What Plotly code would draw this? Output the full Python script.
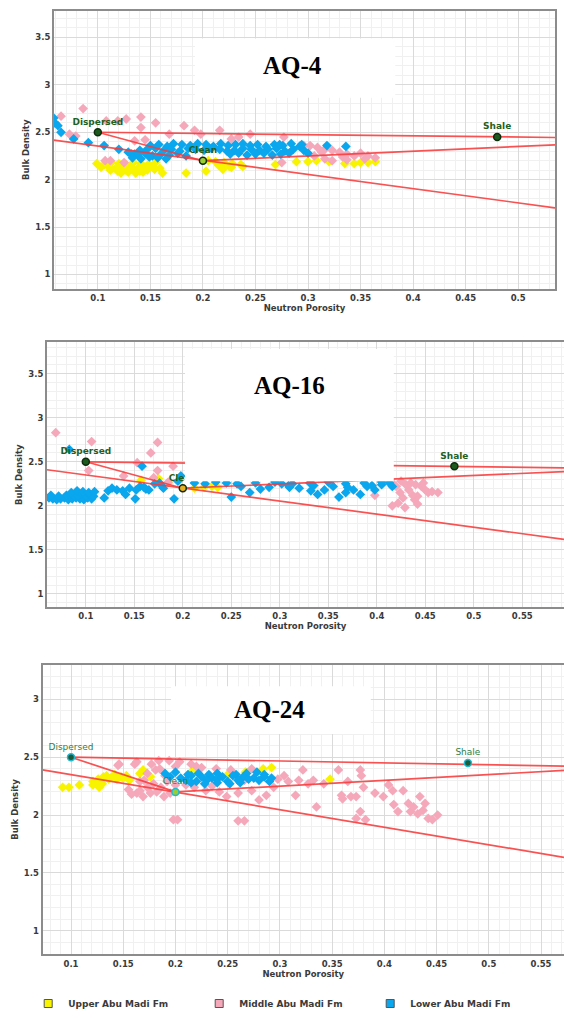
import plotly.graph_objects as go

# ---------------- data ----------------
# End members (neutron porosity, bulk density)
ENDMEMBER_NAMES = ["Dispersed", "Clean", "Shale"]
ENDMEMBER_X = [0.10, 0.20, 0.48]
ENDMEMBER_Y = [2.50, 2.20, 2.45]

# ---- AQ-4 ----
AQ4_UPPER_X = [0.099, 0.106, 0.113, 0.120, 0.127, 0.134, 0.141, 0.148, 0.155,
               0.103, 0.110, 0.117, 0.124, 0.131, 0.138, 0.145, 0.152, 0.159,
               0.112, 0.119, 0.126, 0.133, 0.140, 0.147, 0.154,
               0.122, 0.129, 0.136, 0.143,
               0.1615, 0.184, 0.203, 0.219, 0.227, 0.205, 0.212, 0.220, 0.228, 0.236,
               0.238, 0.225, 0.215, 0.269, 0.289, 0.300, 0.308, 0.320, 0.335, 0.344,
               0.350, 0.357, 0.364]
AQ4_UPPER_Y = [2.17, 2.16, 2.18, 2.17, 2.16, 2.18, 2.17, 2.16, 2.18,
               2.13, 2.14, 2.12, 2.13, 2.14, 2.12, 2.13, 2.14, 2.12,
               2.10, 2.09, 2.10, 2.11, 2.09, 2.10, 2.11,
               2.07, 2.08, 2.07, 2.08,
               2.07, 2.07, 2.09, 2.11, 2.13, 2.20, 2.19, 2.18, 2.17, 2.16,
               2.14, 2.14, 2.15, 2.16, 2.19, 2.19, 2.20, 2.19, 2.17, 2.17,
               2.18, 2.18, 2.19]

AQ4_MIDDLE_X = [0.086, 0.065, 0.079, 0.108, 0.119, 0.127, 0.141, 0.141, 0.155, 0.168,
                0.182, 0.192, 0.198, 0.216, 0.227, 0.234, 0.245, 0.277, 0.107, 0.112,
                0.125, 0.275, 0.135, 0.145, 0.073,
                0.296, 0.302, 0.309, 0.316, 0.323, 0.330, 0.337, 0.344, 0.350, 0.357,
                0.364, 0.316, 0.323, 0.333, 0.306, 0.313, 0.354, 0.337]
AQ4_MIDDLE_Y = [2.75, 2.67, 2.46, 2.62, 2.62, 2.64, 2.66, 2.55, 2.60, 2.48,
                2.57, 2.52, 2.48, 2.52, 2.43, 2.45, 2.48, 2.45, 2.20, 2.20,
                2.18, 2.18, 2.41, 2.42, 2.48,
                2.36, 2.36, 2.34, 2.32, 2.31, 2.29, 2.27, 2.25, 2.28, 2.25,
                2.23, 2.22, 2.20, 2.24, 2.25, 2.29, 2.22, 2.21]

AQ4_LOWER_X = [0.058, 0.059, 0.062, 0.065, 0.077, 0.091, 0.106, 0.120, 0.129, 0.135,
               0.150, 0.158, 0.166, 0.172, 0.180, 0.188, 0.195, 0.203, 0.210, 0.217,
               0.224, 0.231, 0.238, 0.245, 0.252, 0.260, 0.268, 0.276, 0.284, 0.292,
               0.140, 0.147, 0.155, 0.163, 0.170, 0.178, 0.186, 0.193, 0.201, 0.208,
               0.216, 0.223, 0.230, 0.238, 0.246, 0.254, 0.262, 0.270, 0.278, 0.286, 0.296,
               0.132, 0.138, 0.145, 0.152, 0.160, 0.168, 0.176, 0.184, 0.226, 0.234,
               0.242, 0.250, 0.258, 0.266, 0.274, 0.282,
               0.133, 0.141, 0.149, 0.157, 0.165,
               0.294, 0.318, 0.336, 0.273, 0.300]
AQ4_LOWER_Y = [2.65, 2.60, 2.57, 2.50, 2.43, 2.39, 2.36, 2.32, 2.29, 2.27,
               2.36, 2.37, 2.35, 2.38, 2.37, 2.36, 2.38, 2.37, 2.35, 2.38,
               2.36, 2.37, 2.38, 2.36, 2.37, 2.35, 2.37, 2.36, 2.38, 2.35,
               2.31, 2.32, 2.33, 2.31, 2.32, 2.30, 2.33, 2.32, 2.31, 2.33,
               2.32, 2.30, 2.31, 2.33, 2.32, 2.31, 2.32, 2.33, 2.30, 2.32, 2.31,
               2.27, 2.26, 2.28, 2.25, 2.27, 2.26, 2.28, 2.25, 2.27, 2.28,
               2.26, 2.27, 2.28, 2.26, 2.27, 2.28,
               2.23, 2.22, 2.24, 2.23, 2.22,
               2.37, 2.36, 2.35, 2.37, 2.28]

# ---- AQ-16 ----
AQ16_UPPER_X = [0.157, 0.175, 0.185, 0.222, 0.230, 0.236, 0.212]
AQ16_UPPER_Y = [2.29, 2.31, 2.26, 2.21, 2.22, 2.21, 2.20]

AQ16_MIDDLE_X = [0.069, 0.106, 0.103, 0.167, 0.174, 0.174, 0.190, 0.139, 0.153, 0.185, 0.170,
                 0.416, 0.420, 0.424, 0.416, 0.422, 0.427, 0.433, 0.435, 0.439, 0.442,
                 0.446, 0.450, 0.453, 0.457, 0.463, 0.429, 0.442, 0.448, 0.430, 0.437,
                 0.425, 0.440, 0.398]
AQ16_MIDDLE_Y = [2.83, 2.73, 2.40, 2.60, 2.72, 2.40, 2.45, 2.34, 2.49, 2.27, 2.32,
                 2.26, 2.22, 2.15, 2.00, 2.03, 2.09, 2.18, 2.26, 2.07, 2.02,
                 2.22, 2.18, 2.15, 2.16, 2.15, 1.98, 2.11, 2.26, 2.24, 2.12,
                 2.28, 2.24, 2.12]

AQ16_LOWER_X = [0.062, 0.066, 0.070, 0.074, 0.078, 0.082, 0.086, 0.090, 0.094, 0.098, 0.102, 0.106,
                0.064, 0.072, 0.080, 0.084, 0.088, 0.092, 0.096, 0.100, 0.104, 0.108,
                0.085, 0.091, 0.097, 0.103, 0.109,
                0.083, 0.119, 0.123, 0.127, 0.132, 0.138, 0.141, 0.151, 0.152, 0.156,
                0.162, 0.165, 0.158, 0.176, 0.180, 0.191, 0.195, 0.198, 0.171, 0.178,
                0.160, 0.145,
                0.250, 0.269, 0.280, 0.289, 0.302, 0.309, 0.320, 0.332, 0.339, 0.346,
                0.361, 0.368, 0.376, 0.383, 0.390, 0.398, 0.405, 0.413, 0.416,
                0.212, 0.223, 0.234, 0.245, 0.256, 0.275, 0.295, 0.313, 0.331, 0.350,
                0.368, 0.387, 0.405,
                0.260, 0.310, 0.335, 0.355, 0.370, 0.395]
AQ16_LOWER_Y = [2.09, 2.08, 2.07, 2.08, 2.09, 2.07, 2.08, 2.09, 2.08, 2.07, 2.09, 2.08,
                2.12, 2.11, 2.12, 2.13, 2.11, 2.12, 2.14, 2.12, 2.13, 2.11,
                2.15, 2.17, 2.16, 2.15, 2.16,
                2.64, 2.09, 2.17, 2.20, 2.18, 2.17, 2.13, 2.08, 2.18, 2.22,
                2.19, 2.18, 2.45, 2.26, 2.20, 2.08, 2.28, 2.34, 2.25, 2.23,
                2.21, 2.20,
                2.10, 2.15, 2.19, 2.21, 2.25, 2.23, 2.20, 2.17, 2.13, 2.18,
                2.10, 2.15, 2.18, 2.13, 2.22, 2.18, 2.24, 2.26, 2.22,
                2.26, 2.25, 2.27, 2.26, 2.25, 2.26, 2.27, 2.25, 2.26, 2.27,
                2.25, 2.26, 2.27,
                2.22, 2.21, 2.23, 2.22, 2.21, 2.23]

# ---- AQ-24 ----
AQ24_UPPER_X = [0.092, 0.098, 0.108, 0.121, 0.121, 0.126, 0.131, 0.134, 0.139, 0.144,
                0.148, 0.153, 0.156, 0.127, 0.166, 0.169, 0.176, 0.130, 0.136, 0.125,
                0.142, 0.150, 0.284, 0.292, 0.267, 0.348, 0.250, 0.235, 0.216]
AQ24_UPPER_Y = [2.24, 2.24, 2.26, 2.29, 2.26, 2.31, 2.33, 2.34, 2.33, 2.31,
                2.33, 2.34, 2.30, 2.24, 2.36, 2.39, 2.33, 2.27, 2.31, 2.28,
                2.35, 2.32, 2.40, 2.41, 2.37, 2.31, 2.35, 2.32, 2.38]

AQ24_MIDDLE_X = [0.163, 0.166, 0.169, 0.173, 0.176, 0.179, 0.182, 0.186, 0.189, 0.192,
                 0.195, 0.166, 0.173, 0.181, 0.185, 0.190, 0.145, 0.161, 0.198, 0.202,
                 0.260, 0.266,
                 0.146, 0.163, 0.177, 0.184, 0.194, 0.204, 0.215, 0.225, 0.239, 0.253, 0.273,
                 0.218, 0.229, 0.242, 0.249, 0.260, 0.273, 0.280, 0.287, 0.294, 0.266,
                 0.210, 0.235, 0.200, 0.155, 0.158, 0.170, 0.200, 0.220,
                 0.298, 0.304, 0.308, 0.315, 0.318, 0.322, 0.327, 0.332, 0.335, 0.342,
                 0.356, 0.359, 0.360, 0.365, 0.368, 0.373, 0.377, 0.378, 0.380, 0.377,
                 0.382, 0.373, 0.391, 0.399, 0.404, 0.408, 0.409, 0.413, 0.418, 0.423,
                 0.425, 0.428, 0.434, 0.437, 0.439, 0.442, 0.446, 0.451, 0.432]
AQ24_MIDDLE_Y = [2.19, 2.21, 2.16, 2.24, 2.19, 2.27, 2.20, 2.24, 2.16, 2.29,
                 2.19, 2.29, 2.36, 2.39, 2.40, 2.34, 2.43, 2.44, 1.96, 1.96,
                 1.95, 1.95,
                 2.44, 2.46, 2.44, 2.47, 2.47, 2.46, 2.44, 2.41, 2.40, 2.39, 2.40,
                 2.24, 2.21, 2.20, 2.16, 2.19, 2.21, 2.13, 2.17, 2.24, 2.30,
                 2.26, 2.25, 2.26, 2.22, 2.18, 2.30, 2.42, 2.42,
                 2.31, 2.34, 2.29, 2.17, 2.30, 2.39, 2.27, 2.30, 2.07, 2.27,
                 2.39, 2.17, 2.14, 2.29, 2.16, 2.16, 2.39, 2.34, 2.24, 2.03,
                 1.96, 1.97, 2.19, 2.16, 2.26, 2.21, 2.09, 2.03, 2.21, 2.10,
                 2.03, 2.07, 2.16, 2.04, 2.10, 1.97, 1.96, 2.00, 2.01]

AQ24_LOWER_X = [0.190, 0.200, 0.212, 0.222, 0.232, 0.240, 0.258, 0.268, 0.278, 0.285,
                0.195, 0.205, 0.215, 0.225, 0.235, 0.245, 0.255, 0.265, 0.275, 0.285, 0.292,
                0.210, 0.220, 0.230, 0.240, 0.250, 0.260, 0.270, 0.280, 0.290,
                0.215, 0.228, 0.240, 0.252, 0.262]
AQ24_LOWER_Y = [2.36, 2.37, 2.35, 2.36, 2.35, 2.36, 2.35, 2.36, 2.37, 2.35,
                2.33, 2.32, 2.34, 2.33, 2.32, 2.33, 2.34, 2.33, 2.32, 2.33, 2.32,
                2.30, 2.29, 2.30, 2.31, 2.29, 2.30, 2.31, 2.30, 2.29,
                2.28, 2.27, 2.28, 2.27, 2.28]

# Model lines (x0, y0, x1, y1) per well
AQ4_LINES = [(0.10, 2.50, 0.535, 2.445), (0.10, 2.50, 0.20, 2.20),
             (0.20, 2.20, 0.535, 2.368), (0.058, 2.417, 0.535, 1.703)]
AQ16_LINES = [(0.10, 2.50, 0.593, 2.431), (0.10, 2.50, 0.20, 2.20),
              (0.20, 2.20, 0.593, 2.389), (0.060, 2.410, 0.593, 1.620)]
AQ24_LINES = [(0.10, 2.50, 0.572, 2.423), (0.10, 2.50, 0.20, 2.20),
              (0.20, 2.20, 0.572, 2.386), (0.0728, 2.391, 0.572, 1.634)]

WELL_NAMES = ["AQ-4", "AQ-16", "AQ-24"]
FORMATIONS = ["Upper Abu Madi Fm", "Middle Abu Madi Fm", "Lower Abu Madi Fm"]

# ---------------- style ----------------
COL_UPPER = "#F8F400"
COL_MIDDLE = "#F5A8BA"
COL_LOWER = "#0AA6EE"
COL_LINE = "rgba(248,58,58,0.88)"
TXT = "#3a3a3a"
BOLD = dict(family="DejaVu Sans", size=8.5, color=TXT, weight="bold")

panels = [
    dict(name=WELL_NAMES[0], xa="x", ya="y",
         data=[(AQ4_UPPER_X, AQ4_UPPER_Y, COL_UPPER), (AQ4_MIDDLE_X, AQ4_MIDDLE_Y, COL_MIDDLE),
               (AQ4_LOWER_X, AQ4_LOWER_Y, COL_LOWER)],
         lines=AQ4_LINES,
         xdom=[54 / 564, 555 / 564], ydom=[1 - 291 / 1018, 1 - 11 / 1018],
         xr=[0.0583, 0.535], yr=[0.85, 3.78],
         box=[0.1924, 0.383, 2.863, 3.49], title_xy=(0.285, 3.2),
         em_fill=["#1d5a1d", "#9ACD32", "#1d5a1d"], em_line="#0d2d0d",
         lab_col="#1f5f1f", lab_w="bold", mirror_y=True),
    dict(name=WELL_NAMES[1], xa="x2", ya="y2",
         data=[(AQ16_UPPER_X, AQ16_UPPER_Y, COL_UPPER), (AQ16_MIDDLE_X, AQ16_MIDDLE_Y, COL_MIDDLE),
               (AQ16_LOWER_X, AQ16_LOWER_Y, COL_LOWER)],
         lines=AQ16_LINES,
         xdom=[47 / 564, 1.0], ydom=[1 - 612 / 1018, 1 - 345 / 1018],
         xr=[0.060, 0.593], yr=[0.849, 3.857],
         box=[0.2023, 0.4175, 2.278, 3.78], title_xy=(0.31, 3.37),
         em_fill=["#1d5a1d", "#E8B020", "#1d5a1d"], em_line="#0d2d0d",
         lab_col="#1f5f1f", lab_w="bold", mirror_y=False),
    dict(name=WELL_NAMES[2], xa="x3", ya="y3",
         data=[(AQ24_UPPER_X, AQ24_UPPER_Y, COL_UPPER), (AQ24_MIDDLE_X, AQ24_MIDDLE_Y, COL_MIDDLE),
               (AQ24_LOWER_X, AQ24_LOWER_Y, COL_LOWER)],
         lines=AQ24_LINES,
         xdom=[42.5 / 564, 1.0], ydom=[1 - 962 / 1018, 1 - 670 / 1018],
         xr=[0.0727, 0.572], yr=[0.794, 3.3],
         box=[0.1958, 0.387, 2.70, 3.114], title_xy=(0.29, 2.91),
         em_fill=["#1d5a3a", "#9ACD32", "#1d5a3a"], em_line="#22B8D0",
         lab_col="#2f7f3f", lab_w="normal", mirror_y=False),
]

fig = go.Figure()
shapes = []
annotations = []

for i, p in enumerate(panels):
    xa, ya = p["xa"], p["ya"]
    # scatter clouds
    for (xs, ys, col) in p["data"]:
        fig.add_trace(go.Scatter(x=xs, y=ys, mode="markers", xaxis=xa, yaxis=ya,
                                 marker=dict(symbol="diamond", size=7.5, color=col, line=dict(width=0)),
                                 showlegend=False, hoverinfo="skip"))
    # model lines
    for (x0, y0, x1, y1) in p["lines"]:
        fig.add_trace(go.Scatter(x=[x0, x1], y=[y0, y1], mode="lines", xaxis=xa, yaxis=ya,
                                 line=dict(color=COL_LINE, width=1.7),
                                 showlegend=False, hoverinfo="skip"))
    # end members
    fig.add_trace(go.Scatter(x=ENDMEMBER_X, y=ENDMEMBER_Y, mode="markers+text",
                             text=ENDMEMBER_NAMES, textposition="top center",
                             textfont=dict(family="DejaVu Sans", size=9, color=p["lab_col"], weight=p["lab_w"]),
                             xaxis=xa, yaxis=ya,
                             marker=dict(symbol="circle", size=7, color=p["em_fill"],
                                         line=dict(color=p["em_line"], width=1.5)),
                             showlegend=False, hoverinfo="skip"))
    # white title box
    bx0, bx1, by0, by1 = p["box"]
    shapes.append(dict(type="rect", xref=xa, yref=ya, x0=bx0, x1=bx1, y0=by0, y1=by1,
                       fillcolor="white", line=dict(width=0), layer="above"))
    annotations.append(dict(xref=xa, yref=ya, x=p["title_xy"][0], y=p["title_xy"][1],
                            text="<b>%s</b>" % p["name"], showarrow=False,
                            font=dict(family="Liberation Serif", size=25, color="black")))

    suffix = "" if i == 0 else str(i + 1)
    fig.layout["xaxis" + suffix] = dict(
        domain=p["xdom"], range=p["xr"], anchor=ya, dtick=0.05, tick0=0,
        showgrid=True, gridcolor="#DADADA", gridwidth=1,
        minor=dict(dtick=0.01, showgrid=True, gridcolor="#F0F0F0"),
        showline=True, linecolor="#8C8C8C", linewidth=2, mirror=True,
        zeroline=False, ticks="", tickfont=BOLD,
        title=dict(text="Neutron Porosity", font=BOLD, standoff=3))
    fig.layout["yaxis" + suffix] = dict(
        domain=p["ydom"], range=p["yr"], anchor=xa, dtick=0.5, tick0=0,
        showgrid=True, gridcolor="#DADADA", gridwidth=1,
        minor=dict(dtick=0.1, showgrid=True, gridcolor="#F0F0F0"),
        showline=True, linecolor="#8C8C8C", linewidth=2, mirror=p["mirror_y"],
        zeroline=False, ticks="", tickfont=BOLD,
        title=dict(text="Bulk Density", font=BOLD, standoff=4))

# legend entries (square swatches)
for name, col in zip(FORMATIONS, [COL_UPPER, COL_MIDDLE, COL_LOWER]):
    fig.add_trace(go.Scatter(x=[None], y=[None], mode="markers", name=name,
                             marker=dict(symbol="square", size=8, color=col, line=dict(color="#555", width=1)),
                             xaxis="x3", yaxis="y3", showlegend=True))

fig.update_layout(
    width=564, height=1018, autosize=False,
    margin=dict(l=0, r=0, t=0, b=0),
    paper_bgcolor="white", plot_bgcolor="white",
    shapes=shapes, annotations=annotations,
    legend=dict(orientation="h", x=0.05, y=0.006, xanchor="left", yanchor="middle",
                font=dict(family="DejaVu Sans", size=9, color=TXT, weight="bold"),
                itemwidth=30, entrywidth=126, entrywidthmode="pixels",
                bgcolor="rgba(0,0,0,0)"),
)

fig.write_html("out.html")
